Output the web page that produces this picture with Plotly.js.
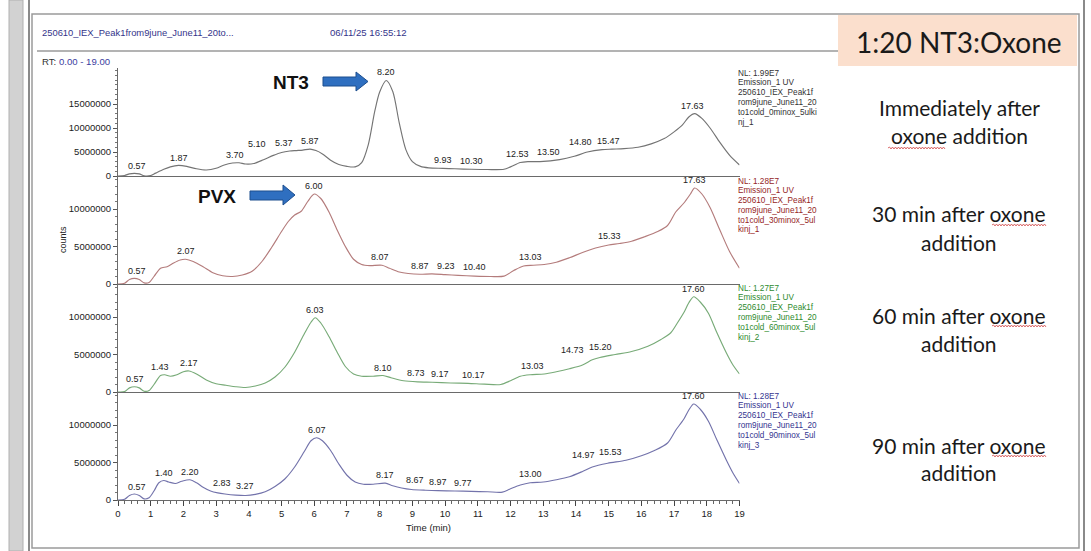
<!DOCTYPE html>
<html><head><meta charset="utf-8">
<script src="https://cdn.plot.ly/plotly-3.0.1.min.js"></script>
<style>html,body{margin:0;padding:0;background:#fff;}#chart{width:1091px;height:551px;}</style>
</head><body><div id="chart"></div>
<script>
// ---------- DATA (retention time in min, signal in counts) ----------
const time0 = [0,0.2,0.35,0.5,0.65,0.8,1.0,1.15,1.4,1.6,1.85,2.1,2.4,2.7,3.0,3.25,3.5,3.7,3.9,4.15,4.45,4.75,5.0,5.25,5.45,5.65,5.87,6.05,6.25,6.5,6.75,7.0,7.25,7.45,7.65,7.85,8.0,8.2,8.4,8.6,8.8,9.0,9.25,9.5,9.93,10.3,10.8,11.3,11.8,12.0,12.3,12.53,12.9,13.5,13.95,14.35,14.8,15.1,15.47,15.9,16.3,16.7,17.0,17.25,17.45,17.63,17.85,18.1,18.4,18.7,19.0];
const counts0 = [0,0.1e6,0.45e6,0.55e6,0.45e6,0.05e6,0.1e6,0.6e6,1.4e6,1.9e6,2.2e6,2.0e6,1.5e6,1.25e6,1.6e6,2.3e6,2.7e6,2.75e6,2.5e6,2.6e6,3.4e6,4.3e6,4.9e6,5.2e6,5.3e6,5.4e6,5.6e6,5.3e6,4.6e6,3.3e6,2.4e6,2.0e6,1.9e6,2.8e6,6.5e6,13.5e6,17.5e6,19.9e6,17.6e6,11.0e6,5.5e6,3.0e6,2.0e6,1.7e6,1.6e6,1.5e6,1.4e6,1.35e6,1.4e6,1.9e6,2.8e6,3.0e6,3.0e6,3.4e6,4.1e6,5.0e6,5.5e6,5.6e6,5.7e6,6.0e6,6.7e6,7.8e6,9.2e6,10.6e6,12.3e6,13.0e6,12.0e6,10.0e6,7.0e6,4.3e6,2.3e6];

const time30 = [0,0.2,0.35,0.5,0.65,0.8,0.95,1.1,1.3,1.5,1.7,1.9,2.07,2.3,2.6,2.9,3.2,3.5,3.8,4.1,4.4,4.7,5.0,5.2,5.4,5.6,5.8,6.0,6.2,6.45,6.7,6.95,7.2,7.45,7.7,8.07,8.3,8.6,8.87,9.23,9.6,10.0,10.4,10.9,11.4,11.8,12.1,12.4,12.7,13.03,13.4,13.8,14.2,14.6,15.0,15.33,15.7,16.1,16.5,16.8,17.05,17.3,17.5,17.63,17.85,18.1,18.4,18.7,19.0];
const counts30 = [0,0.1e6,0.6e6,0.75e6,0.6e6,0.15e6,0.2e6,1.0e6,2.1e6,2.3e6,2.8e6,3.2e6,3.3e6,3.0e6,2.3e6,1.5e6,1.1e6,1.0e6,1.2e6,1.7e6,3.0e6,4.9e6,7.0e6,8.3e6,9.2e6,9.7e6,11.0e6,12.0e6,11.4e6,9.6e6,7.2e6,5.0e6,3.3e6,2.6e6,2.45e6,2.5e6,2.1e6,1.6e6,1.4e6,1.3e6,1.35e6,1.25e6,1.15e6,1.05e6,1.0e6,1.05e6,1.8e6,2.4e6,2.5e6,2.6e6,2.9e6,3.5e6,4.2e6,4.8e6,5.2e6,5.4e6,5.7e6,6.3e6,7.0e6,7.8e6,9.6e6,10.8e6,12.0e6,12.8e6,12.0e6,10.2e6,7.2e6,4.3e6,2.1e6];

const time60 = [0,0.2,0.35,0.5,0.65,0.8,0.95,1.1,1.3,1.43,1.6,1.8,2.0,2.17,2.4,2.7,3.0,3.3,3.6,3.9,4.2,4.5,4.8,5.1,5.4,5.7,5.9,6.03,6.2,6.45,6.7,6.95,7.2,7.45,7.8,8.1,8.35,8.73,9.17,9.6,10.17,10.7,11.2,11.7,12.0,12.3,12.6,13.03,13.4,13.8,14.2,14.5,14.73,15.2,15.7,16.2,16.6,16.9,17.1,17.3,17.45,17.6,17.8,18.05,18.3,18.6,18.8,19.0];
const counts60 = [0,0.05e6,0.55e6,0.7e6,0.55e6,0.1e6,0.2e6,1.0e6,2.2e6,2.3e6,2.1e6,2.3e6,2.7e6,2.8e6,2.4e6,1.6e6,1.1e6,0.9e6,0.7e6,0.6e6,0.8e6,1.2e6,2.0e6,3.3e6,5.3e6,7.8e6,9.3e6,9.9e6,9.2e6,7.4e6,5.3e6,3.4e6,2.4e6,2.1e6,2.1e6,2.2e6,1.9e6,1.5e6,1.35e6,1.3e6,1.2e6,1.15e6,1.05e6,1.0e6,1.5e6,2.1e6,2.3e6,2.4e6,2.7e6,3.1e6,3.6e6,4.3e6,4.6e6,5.0e6,5.4e6,6.1e6,7.0e6,7.9e6,9.2e6,10.6e6,11.9e6,12.7e6,12.0e6,10.5e6,8.0e6,5.2e6,3.6e6,2.4e6];

const time90 = [0,0.2,0.35,0.5,0.65,0.8,0.95,1.1,1.25,1.4,1.55,1.75,1.95,2.2,2.4,2.6,2.83,3.05,3.27,3.6,3.9,4.2,4.5,4.8,5.1,5.4,5.7,5.9,6.07,6.25,6.5,6.75,7.0,7.25,7.5,7.8,8.17,8.4,8.67,8.97,9.4,9.77,10.3,10.8,11.3,11.75,12.0,12.3,12.6,13.0,13.4,13.8,14.2,14.5,14.97,15.53,16.0,16.4,16.8,17.05,17.3,17.45,17.6,17.8,18.05,18.3,18.6,18.8,19.0];
const counts90 = [0,0.1e6,0.6e6,0.8e6,0.6e6,0.15e6,0.3e6,1.2e6,2.3e6,2.6e6,2.4e6,2.2e6,2.5e6,2.7e6,2.3e6,1.7e6,1.2e6,0.95e6,0.8e6,0.65e6,0.6e6,0.75e6,1.1e6,1.8e6,2.8e6,4.4e6,6.5e6,7.9e6,8.3e6,7.9e6,6.6e6,4.8e6,3.3e6,2.4e6,2.1e6,2.1e6,2.25e6,1.9e6,1.6e6,1.4e6,1.3e6,1.25e6,1.2e6,1.15e6,1.1e6,1.05e6,1.5e6,2.0e6,2.3e6,2.4e6,2.7e6,3.1e6,3.8e6,4.4e6,4.9e6,5.3e6,5.9e6,6.6e6,7.6e6,9.3e6,10.8e6,12.0e6,12.8e6,12.1e6,10.5e6,8.1e6,5.3e6,3.6e6,2.2e6];

// peak retention-time labels
const peaks0  = ['0.57','1.87','3.70','5.10','5.37','5.87','8.20','9.93','10.30','12.53','13.50','14.80','15.47','17.63'];
const peaks30 = ['0.57','2.07','6.00','8.07','8.87','9.23','10.40','13.03','15.33','17.63'];
const peaks60 = ['0.57','1.43','2.17','6.03','8.10','8.73','9.17','10.17','13.03','14.73','15.20','17.60'];
const peaks90 = ['0.57','1.40','2.20','2.83','3.27','6.07','8.17','8.67','8.97','9.77','13.00','14.97','15.53','17.60'];

// y-axis tick values per panel
const yTicks0 = [0,5000000,10000000,15000000];
const yTicksN = [0,5000000,10000000];

// normalisation levels and file names
const normLevels = ['1.99E7','1.28E7','1.27E7','1.28E7'];
const fileTails  = [['to1cold_0minox_5ulki','nj_1'],['to1cold_30minox_5ul','kinj_1'],['to1cold_60minox_5ul','kinj_2'],['to1cold_90minox_5ul','kinj_3']];
const conditions = [['Immediately after','oxone addition'],['30 min after oxone','addition'],['60 min after oxone','addition'],['90 min after oxone','addition']];

// ---------- LAYOUT HELPERS (pixel placement) ----------
const W=1091,H=551;
const fx = x => x/W, fy = y => 1 - y/H;
const XL=118, XR=739.5;
const shifts = [
  [0,0,-4,-28,-10,0,0,0,17,-10,-11,-22,-16,-2],
  [0,0,0,-2,12,26,16,-14,-10,0],
  [-2,-5,0,0,0,12,22,23,-12,-27,-15,0],
  [0,0,0,11,20,0,0,13,27,25,-13,-24,-15,0]
];
const series = [
  {t:time0,v:counts0,labels:peaks0,ticks:yTicks0,color:'#747474',nlColor:'#333333',zero:176,top:68,ymax:22.5e6},
  {t:time30,v:counts30,labels:peaks30,ticks:yTicksN,color:'#b47c7c',nlColor:'#952626',zero:284,top:176,ymax:14.4e6},
  {t:time60,v:counts60,labels:peaks60,ticks:yTicksN,color:'#78ab78',nlColor:'#2e8a2e',zero:392,top:284,ymax:14.4e6},
  {t:time90,v:counts90,labels:peaks90,ticks:yTicksN,color:'#7373ab',nlColor:'#34348f',zero:500,top:392,ymax:14.4e6}
];
const nlTop = [73,181,288,396];
const condY = [[107,135],[213,242],[315,343],[445,472]];
const underl = [[888,946,148],[992,1047,225],[992,1047,326],[992,1047,456]];

function interp(xs, ys, x){
  for(let i=0;i<xs.length-1;i++){
    if(x>=xs[i] && x<=xs[i+1]){const f=(x-xs[i])/(xs[i+1]-xs[i]);return ys[i]+f*(ys[i+1]-ys[i]);}
  }
  return ys[ys.length-1];
}
const P = (x,y) => fx(x).toFixed(5)+','+fy(y).toFixed(5);
const polyPath = pts => 'M'+pts.map(p=>P(p[0],p[1])).join('L')+'Z';
function zig(x0,x1,y){let s='M'+P(x0,y),up=true;for(let x=x0+1.5;x<=x1;x+=1.5){s+='L'+P(x,y+(up?-1:1));up=!up;}return s;}

const AX='Liberation Sans, Arial, sans-serif';
const CAL='Lato, Open Sans, sans-serif';

const traces=[], annotations=[], layout={
  width:W,height:H,margin:{l:0,r:0,t:0,b:0},paper_bgcolor:'#ffffff',plot_bgcolor:'rgba(0,0,0,0)',
  showlegend:false,font:{family:AX,size:9,color:'#222'}
};

series.forEach((s,i)=>{
  const n=i+1, xa='x'+(n===1?'':n), ya='y'+(n===1?'':n);
  traces.push({type:'scatter',mode:'lines',x:s.t,y:s.v,xaxis:xa,yaxis:ya,
    line:{color:s.color,width:1.15,shape:'spline',smoothing:0.8},hoverinfo:'skip'});
  const xk='xaxis'+(n===1?'':n), yk='yaxis'+(n===1?'':n);
  layout[xk]={domain:[fx(XL),fx(XR)],range:[0,19],anchor:ya,showline:true,linecolor:'#6a6a6a',linewidth:1,
    showgrid:false,zeroline:false,ticks:'',showticklabels:false,fixedrange:true};
  layout[yk]={domain:[fy(s.zero),fy(s.top)],range:[0,s.ymax],anchor:xa,showline:true,linecolor:'#6a6a6a',linewidth:1,
    showgrid:false,zeroline:false,ticks:'outside',ticklen:4,tickcolor:'#555',tickmode:'array',tickvals:s.ticks,
    ticktext:s.ticks.map(v=>String(v)),
    tickfont:{size:9.5,color:'#222',family:AX},
    minor:{tickmode:'linear',tick0:0,dtick:1e6,ticks:'outside',ticklen:2,tickcolor:'#777'},fixedrange:true};
  s.labels.forEach((lab,j)=>{
    const rt=parseFloat(lab);
    annotations.push({xref:xa,yref:ya,x:rt,y:interp(s.t,s.v,rt),text:lab,showarrow:false,
      xanchor:'center',yanchor:'bottom',yshift:1,xshift:shifts[i][j],
      font:{family:AX,size:9,color:'#222'}});
  });
  const lines=['NL: '+normLevels[i],'Emission_1 UV','250610_IEX_Peak1f','rom9june_June11_20',fileTails[i][0],fileTails[i][1]];
  lines.forEach((ln,k)=>{
    annotations.push({xref:'paper',yref:'paper',x:fx(736),y:fy(nlTop[i]+k*9.8),text:ln,showarrow:false,
      xanchor:'left',yanchor:'middle',font:{family:AX,size:8.2,color:s.nlColor}});
  });
  conditions[i].forEach((ln,k)=>{
    annotations.push({xref:'paper',yref:'paper',x:fx(959),y:fy(condY[i][k]),text:ln,showarrow:false,
      xanchor:'center',yanchor:'middle',font:{family:CAL,size:21,color:'#1a1a1a'}});
  });
});
Object.assign(layout.xaxis4,{ticks:'outside',ticklen:5,tickcolor:'#444',tick0:0,dtick:1,showticklabels:true,
  tickfont:{size:9.5,color:'#222',family:AX},minor:{dtick:0.2,ticks:'outside',ticklen:3,tickcolor:'#666'}});

annotations.push(
  {xref:'paper',yref:'paper',x:fx(40),y:fy(33),text:'250610_IEX_Peak1from9june_June11_20to...',showarrow:false,xanchor:'left',yanchor:'middle',font:{family:AX,size:9.4,color:'#34348a'}},
  {xref:'paper',yref:'paper',x:fx(328),y:fy(33),text:'06/11/25 16:55:12',showarrow:false,xanchor:'left',yanchor:'middle',font:{family:AX,size:9.6,color:'#34348a'}},
  {xref:'paper',yref:'paper',x:fx(40),y:fy(61),text:'RT: <span style="color:#4040a0">0.00 - 19.00</span>',showarrow:false,xanchor:'left',yanchor:'middle',font:{family:AX,size:9.6,color:'#333'}},
  {xref:'paper',yref:'paper',x:fx(63),y:fy(240),text:'counts',textangle:-90,showarrow:false,xanchor:'center',yanchor:'middle',font:{family:AX,size:9,color:'#222'}},
  {xref:'paper',yref:'paper',x:fx(428),y:fy(527),text:'Time (min)',showarrow:false,xanchor:'center',yanchor:'middle',font:{family:AX,size:9.5,color:'#222'}},
  {xref:'paper',yref:'paper',x:fx(291),y:fy(82),text:'<b>NT3</b>',showarrow:false,xanchor:'center',yanchor:'middle',font:{family:AX,size:19,color:'#111'}},
  {xref:'paper',yref:'paper',x:fx(217),y:fy(196),text:'<b>PVX</b>',showarrow:false,xanchor:'center',yanchor:'middle',font:{family:AX,size:19,color:'#111'}},
  {xref:'paper',yref:'paper',x:fx(959),y:fy(42),text:'1:20 NT3:Oxone',showarrow:false,xanchor:'center',yanchor:'middle',font:{family:CAL,size:28,color:'#1a1a1a'}}
);
layout.annotations=annotations;

const shapes=[
  {type:'rect',xref:'paper',yref:'paper',x0:fx(9),x1:fx(23),y0:0,y1:1,fillcolor:'#d2d2d2',line:{color:'#b0b0b0',width:1},layer:'below'},
  {type:'line',xref:'paper',yref:'paper',x0:fx(29),x1:fx(29),y0:0,y1:1,line:{color:'#8a8a8a',width:2}},
  {type:'rect',xref:'paper',yref:'paper',x0:fx(32),x1:fx(1079),y0:fy(548),y1:fy(14),line:{color:'#9a9a9a',width:1.5},layer:'below'},
  {type:'line',xref:'paper',yref:'paper',x0:fx(1084),x1:fx(1084),y0:0,y1:1,line:{color:'#8a8a8a',width:2}},
  {type:'line',xref:'paper',yref:'paper',x0:fx(37),x1:fx(838),y0:fy(51),y1:fy(51),line:{color:'#9a9a9a',width:1.5}},
  {type:'rect',xref:'paper',yref:'paper',x0:fx(838),x1:fx(1077),y0:fy(66),y1:fy(15),fillcolor:'#fbdfcd',line:{width:0},layer:'below'},
  {type:'path',xref:'paper',yref:'paper',path:polyPath([[323,77],[356,77],[356,72],[368,81.5],[356,91],[356,86],[323,86]]),fillcolor:'#2f6fc0',line:{color:'#1d4e8e',width:1}},
  {type:'path',xref:'paper',yref:'paper',path:polyPath([[250,191],[283,191],[283,185],[295,195],[283,205],[283,200],[250,200]]),fillcolor:'#2f6fc0',line:{color:'#1d4e8e',width:1}}
];
underl.forEach(u=>shapes.push({type:'path',xref:'paper',yref:'paper',path:zig(u[0],u[1],u[2]),line:{color:'#d04848',width:0.8}}));
layout.shapes=shapes;

Plotly.newPlot('chart',traces,layout,{staticPlot:true,displayModeBar:false});
</script></body></html>
